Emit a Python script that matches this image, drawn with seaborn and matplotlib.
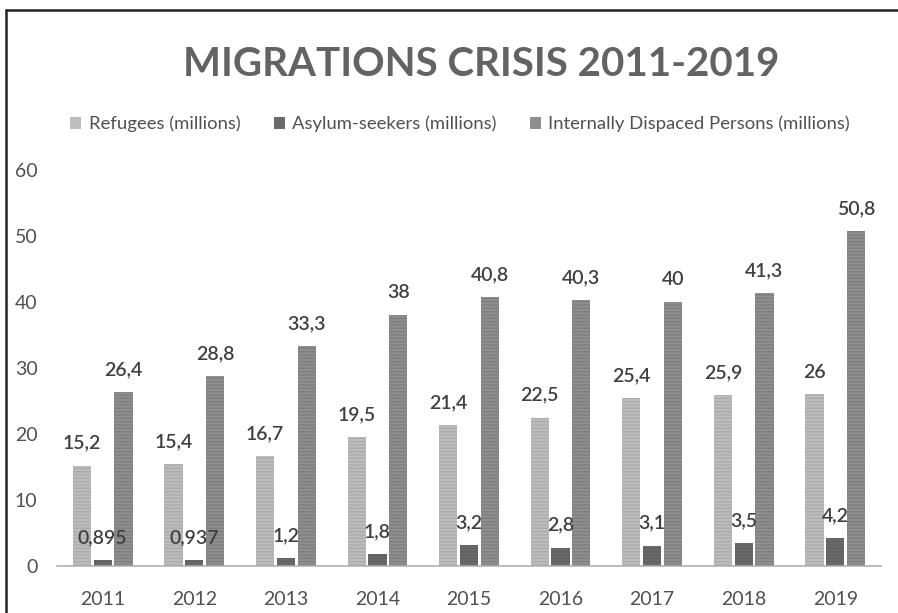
import matplotlib
matplotlib.use("Agg")
import matplotlib.pyplot as plt
import pandas as pd
import seaborn as sns
from matplotlib.lines import Line2D

# Chart data
years = ["2011", "2012", "2013", "2014", "2015", "2016", "2017", "2018", "2019"]
refugees = [15.2, 15.4, 16.7, 19.5, 21.4, 22.5, 25.4, 25.9, 26]
asylum_seekers = [0.895, 0.937, 1.2, 1.8, 3.2, 2.8, 3.1, 3.5, 4.2]
idps = [26.4, 28.8, 33.3, 38, 40.8, 40.3, 40, 41.3, 50.8]
series_names = [
    "Refugees (millions)",
    "Asylum-seekers (millions)",
    "Internally Dispaced Persons (millions)",
]
y_ticks = [0, 10, 20, 30, 40, 50, 60]

# Long-form table for seaborn
df = pd.DataFrame({"year": years * 3,
                   "series": [series_names[0]] * 9 + [series_names[1]] * 9 + [series_names[2]] * 9,
                   "value": refugees + asylum_seekers + idps})

sns.set_theme(style="white")
plt.rcParams["font.family"] = ["Lato", "DejaVu Sans"]

text_col = "#505050"
colors = ["#bdbdbd", "#6a6a6a", "#8f8f8f"]
hatch_cols = ["#acacac", "#606060", "#7f7f7f"]

fig = plt.figure(figsize=(8.98, 6.13), dpi=100)
ax = fig.add_axes([57 / 898, 47 / 613, (881 - 57) / 898, (566 - 170) / 613])

sns.barplot(data=df, x="year", y="value", hue="series", palette=colors,
            width=0.68, gap=0.12, ax=ax, legend=False, saturation=1)

# stripe texture on the bars
plt.rcParams["hatch.linewidth"] = 0.6
for i, cont in enumerate(ax.containers):
    for p in cont:
        p.set_hatch("-----")
        p.set_edgecolor(hatch_cols[i])
        p.set_linewidth(0)
    labels = [f"{v:g}".replace(".", ",") for v in cont.datavalues]
    ax.bar_label(cont, labels=labels, padding=10, fontsize=14,
                 fontweight="semibold", color="#404040")

ax.set_xlim(-0.5, 8.5)
ax.set_ylim(0, 60)
ax.set_yticks(y_ticks)
ax.set_xlabel("")
ax.set_ylabel("")
ax.tick_params(axis="both", length=0, labelsize=14, labelcolor=text_col)
ax.tick_params(axis="y", pad=14)
ax.tick_params(axis="x", pad=18)
for s in ["top", "right", "left"]:
    ax.spines[s].set_visible(False)
ax.spines["bottom"].set_color("#b0b0b0")
ax.spines["bottom"].set_linewidth(1.2)

# legend in the header
handles = [plt.Rectangle((0, 0), 1, 1, facecolor=c, edgecolor="none") for c in colors]
fig.legend(handles, series_names, loc="center", bbox_to_anchor=(460 / 898, 1 - 124 / 613),
           ncol=3, frameon=False, fontsize=13.3, labelcolor=text_col,
           handlelength=0.6, handleheight=0.6, handletextpad=0.4, columnspacing=1.8)

fig.text(481 / 898, 1 - 64 / 613, "MIGRATIONS CRISIS 2011-2019", ha="center", va="center",
         fontsize=29, fontweight="bold", color="#636363")

# outer frame (left and top edges visible)
fig.add_artist(Line2D([6 / 898, 6 / 898], [0, 1 - 10 / 613], color="#222222", lw=1.8))
fig.add_artist(Line2D([6 / 898, 1], [1 - 10 / 613, 1 - 10 / 613], color="#222222", lw=1.8))

fig.savefig("out.png", dpi=100)
